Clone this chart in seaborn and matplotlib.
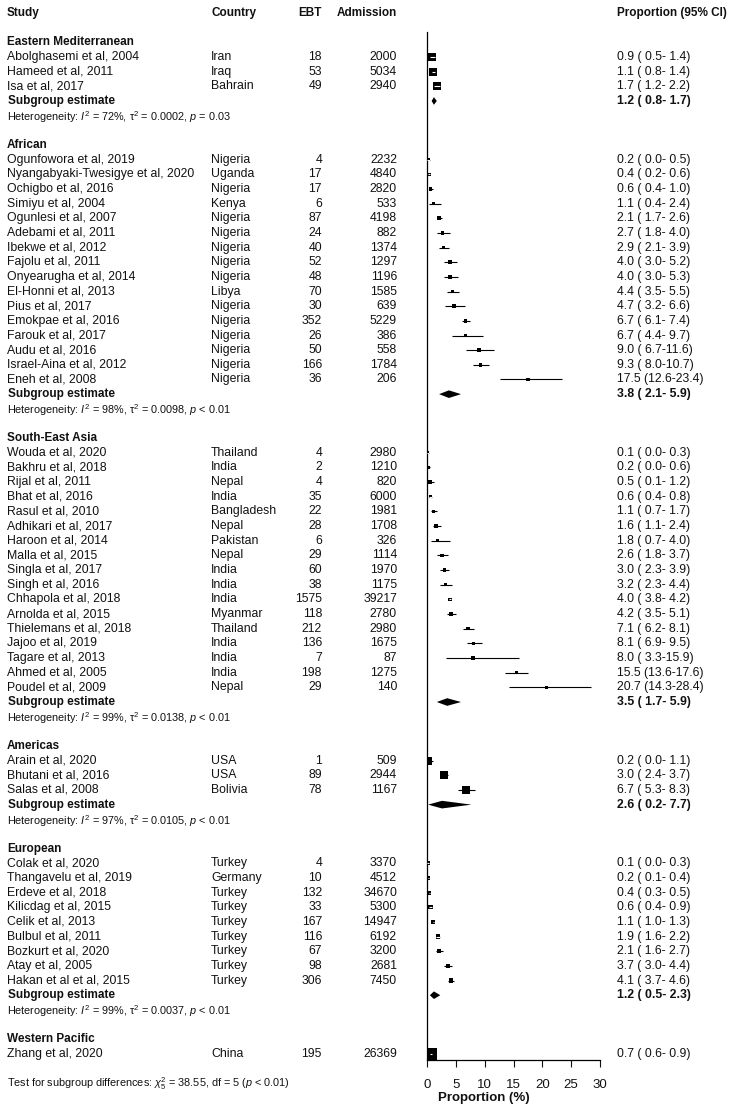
import numpy as np
import pandas as pd
import seaborn as sns
import matplotlib.pyplot as plt

sns.set_style("white")
plt.rcParams['font.family'] = ['Liberation Sans', 'DejaVu Sans']
plt.rcParams['mathtext.fontset'] = 'custom'
plt.rcParams['mathtext.rm'] = 'Liberation Sans'
plt.rcParams['mathtext.it'] = 'Liberation Sans:italic'
plt.rcParams['mathtext.bf'] = 'Liberation Sans:bold'

regions = ['Eastern Mediterranean', 'African', 'South-East Asia',
           'Americas', 'European', 'Western Pacific']
n_studies = [3, 16, 17, 3, 9, 1]

study = ['Abolghasemi et al, 2004', 'Hameed et al, 2011', 'Isa et al, 2017',
         'Ogunfowora et al, 2019', 'Nyangabyaki-Twesigye et al, 2020',
         'Ochigbo et al, 2016', 'Simiyu et al, 2004', 'Ogunlesi et al, 2007',
         'Adebami et al, 2011', 'Ibekwe et al, 2012', 'Fajolu et al, 2011',
         'Onyearugha et al, 2014', 'El-Honni et al, 2013', 'Pius et al, 2017',
         'Emokpae et al, 2016', 'Farouk et al, 2017', 'Audu et al, 2016',
         'Israel-Aina et al, 2012', 'Eneh et al, 2008',
         'Wouda et al, 2020', 'Bakhru et al, 2018', 'Rijal et al, 2011',
         'Bhat et al, 2016', 'Rasul et al, 2010', 'Adhikari et al, 2017',
         'Haroon et al, 2014', 'Malla et al, 2015', 'Singla et al, 2017',
         'Singh et al, 2016', 'Chhapola et al, 2018', 'Arnolda et al, 2015',
         'Thielemans et al, 2018', 'Jajoo et al, 2019', 'Tagare et al, 2013',
         'Ahmed et al, 2005', 'Poudel et al, 2009',
         'Arain et al, 2020', 'Bhutani et al, 2016', 'Salas et al, 2008',
         'Colak et al, 2020', 'Thangavelu et al, 2019', 'Erdeve et al, 2018',
         'Kilicdag et al, 2015', 'Celik et al, 2013', 'Bulbul et al, 2011',
         'Bozkurt et al, 2020', 'Atay et al, 2005', 'Hakan et al et al, 2015',
         'Zhang et al, 2020']
country = ['Iran', 'Iraq', 'Bahrain',
           'Nigeria', 'Uganda', 'Nigeria', 'Kenya', 'Nigeria', 'Nigeria',
           'Nigeria', 'Nigeria', 'Nigeria', 'Libya', 'Nigeria', 'Nigeria',
           'Nigeria', 'Nigeria', 'Nigeria', 'Nigeria',
           'Thailand', 'India', 'Nepal', 'India', 'Bangladesh', 'Nepal',
           'Pakistan', 'Nepal', 'India', 'India', 'India', 'Myanmar',
           'Thailand', 'India', 'India', 'India', 'Nepal',
           'USA', 'USA', 'Bolivia',
           'Turkey', 'Germany', 'Turkey', 'Turkey', 'Turkey', 'Turkey',
           'Turkey', 'Turkey', 'Turkey',
           'China']
ebt = [18, 53, 49,
       4, 17, 17, 6, 87, 24, 40, 52, 48, 70, 30, 352, 26, 50, 166, 36,
       4, 2, 4, 35, 22, 28, 6, 29, 60, 38, 1575, 118, 212, 136, 7, 198, 29,
       1, 89, 78,
       4, 10, 132, 33, 167, 116, 67, 98, 306,
       195]
admission = [2000, 5034, 2940,
             2232, 4840, 2820, 533, 4198, 882, 1374, 1297, 1196, 1585, 639,
             5229, 386, 558, 1784, 206,
             2980, 1210, 820, 6000, 1981, 1708, 326, 1114, 1970, 1175, 39217,
             2780, 2980, 1675, 87, 1275, 140,
             509, 2944, 1167,
             3370, 4512, 34670, 5300, 14947, 6192, 3200, 2681, 7450,
             26369]
prop = [0.9, 1.1, 1.7,
        0.2, 0.4, 0.6, 1.1, 2.1, 2.7, 2.9, 4.0, 4.0, 4.4, 4.7, 6.7, 6.7,
        9.0, 9.3, 17.5,
        0.1, 0.2, 0.5, 0.6, 1.1, 1.6, 1.8, 2.6, 3.0, 3.2, 4.0, 4.2, 7.1,
        8.1, 8.0, 15.5, 20.7,
        0.2, 3.0, 6.7,
        0.1, 0.2, 0.4, 0.6, 1.1, 1.9, 2.1, 3.7, 4.1,
        0.7]
lower = [0.5, 0.8, 1.2,
         0.0, 0.2, 0.4, 0.4, 1.7, 1.8, 2.1, 3.0, 3.0, 3.5, 3.2, 6.1, 4.4,
         6.7, 8.0, 12.6,
         0.0, 0.0, 0.1, 0.4, 0.7, 1.1, 0.7, 1.8, 2.3, 2.3, 3.8, 3.5, 6.2,
         6.9, 3.3, 13.6, 14.3,
         0.0, 2.4, 5.3,
         0.0, 0.1, 0.3, 0.4, 1.0, 1.6, 1.6, 3.0, 3.7,
         0.6]
upper = [1.4, 1.4, 2.2,
         0.5, 0.6, 1.0, 2.4, 2.6, 4.0, 3.9, 5.2, 5.3, 5.5, 6.6, 7.4, 9.7,
         11.6, 10.7, 23.4,
         0.3, 0.6, 1.2, 0.8, 1.7, 2.4, 4.0, 3.7, 3.9, 4.4, 4.2, 5.1, 8.1,
         9.5, 15.9, 17.6, 28.4,
         1.1, 3.7, 8.3,
         0.3, 0.4, 0.5, 0.9, 1.3, 2.2, 2.7, 4.4, 4.6,
         0.9]
# relative box weight
weight = [46, 48, 46,
          9, 8.5, 9, 8.5, 9.5, 9, 9, 9, 9, 9, 9, 9.5, 8.5, 9, 9, 8.5,
          8, 8.5, 8.5, 8.5, 9, 9, 8, 8.5, 9, 9, 9, 9, 9, 9, 8, 9, 8,
          50, 48, 47,
          13, 12, 13, 13, 13, 13, 13, 13, 13,
          100]

sub_est = [1.2, 3.8, 3.5, 2.6, 1.2]
sub_lo = [0.8, 2.1, 1.7, 0.2, 0.5]
sub_hi = [1.7, 5.9, 5.9, 7.7, 2.3]
het_i2 = ['72%', '98%', '99%', '97%', '99%']
het_tau2 = ['0.0002', '0.0098', '0.0138', '0.0105', '0.0037']
het_p = ['= 0.03', '< 0.01', '< 0.01', '< 0.01', '< 0.01']

# ---- layout in rows ----
df = pd.DataFrame({'study': study, 'country': country, 'ebt': ebt,
                   'admission': admission, 'prop': prop, 'lo': lower,
                   'hi': upper, 'weight': weight})
df['region'] = np.repeat(regions, n_studies)

header_rows, sub_rows, het_rows, study_rows = [], [], [], []
r = 2
for i, reg in enumerate(regions):
    header_rows.append(r)
    r += 1
    for _ in range(n_studies[i]):
        study_rows.append(r)
        r += 1
    if i < len(sub_est):
        sub_rows.append(r)
        het_rows.append(r + 1)
        r += 3
df['row'] = study_rows
test_row = r + 1

W, H = 730, 1110
y0, pitch = 13, 14.66
fig = plt.figure(figsize=(W / 100, H / 100), dpi=100)

tax = fig.add_axes([0, 0, 1, 1])
tax.set_xlim(0, W)
tax.set_ylim((H - y0) / pitch, -y0 / pitch)
tax.axis('off')

fax = fig.add_axes([427 / W, 1 - 1060 / H, 173 / W, (1060 - 32) / H])
fax.patch.set_alpha(0)
fax.set_xlim(0, 30)
fax.set_ylim((1060 - y0) / pitch, (32 - y0) / pitch)

ink = '#111111'
txt = dict(fontsize=8.8, va='center', color=ink)
hdr = dict(fontsize=8.5, va='center', color=ink, fontweight='bold')
X_STUDY, X_COUNTRY, X_EBT, X_ADM, X_CI = 7, 211, 322, 397, 617

tax.text(X_STUDY, 0, 'Study', **hdr)
tax.text(X_COUNTRY, 0, 'Country', **hdr)
tax.text(X_EBT, 0, 'EBT', ha='right', **hdr)
tax.text(X_ADM, 0, 'Admission', ha='right', **hdr)
tax.text(X_CI, 0, 'Proportion (95% CI)', **hdr)

for reg, hr in zip(regions, header_rows):
    tax.text(X_STUDY, hr, reg, **hdr)

for _, s in df.iterrows():
    tax.text(X_STUDY, s.row, s.study, **txt)
    tax.text(X_COUNTRY, s.row, s.country, **txt)
    tax.text(X_EBT, s.row, str(s.ebt), ha='right', **txt)
    tax.text(X_ADM, s.row, str(s.admission), ha='right', **txt)
    tax.text(X_CI, s.row, f'{s.prop:.1f} ({s.lo:4.1f}-{s.hi:4.1f})', **txt)

for i, sr in enumerate(sub_rows):
    tax.text(X_STUDY + 1, sr, 'Subgroup estimate', **hdr)
    tax.text(X_CI, sr, f'{sub_est[i]:.1f} ({sub_lo[i]:4.1f}-{sub_hi[i]:4.1f})',
             fontsize=8.8, va='center', color=ink, fontweight='bold')
    tax.text(X_STUDY, het_rows[i] + 0.1,
             f'Heterogeneity: $I^2$ = {het_i2[i]}, τ$^2$ = {het_tau2[i]}, $p$ {het_p[i]}',
             fontsize=7.8, va='center', color=ink)

tax.text(X_STUDY, test_row,
         r'Test for subgroup differences: $\chi^2_5$ = 38.55, df = 5 ($p$ < 0.01)',
         fontsize=7.8, va='center', color=ink)
tax.text(484, (1098 - y0) / pitch, 'Proportion (%)', fontweight='bold',
         fontsize=9.5, ha='center', va='center', color=ink)

# ---- forest marks ----
AREA_MAX = 70
fax.hlines(df['row'], df['lo'], df['hi'], color='black', lw=0.8, zorder=1)
sns.scatterplot(data=df, x='prop', y='row', size='weight',
                sizes=(0, AREA_MAX), size_norm=(0, 100), marker='s',
                color='black', linewidth=0, legend=False, zorder=2, ax=fax)
# CI drawn in white when it lies completely inside its box
px_per_unit = 173 / 30
half = np.sqrt(AREA_MAX * df['weight'] / 100) * 100 / 72 / 2 / px_per_unit
inside = (df['lo'] >= df['prop'] - half) & (df['hi'] <= df['prop'] + half)
fin = df[inside]
fax.hlines(fin['row'], fin['lo'], fin['hi'], color='white', lw=0.8, zorder=3)

for i, sr in enumerate(sub_rows):
    fax.fill([sub_lo[i], sub_est[i], sub_hi[i], sub_est[i]],
             [sr, sr - 0.26, sr, sr + 0.26], color='black', lw=0, zorder=2)

fax.set_xticks(range(0, 31, 5))
fax.set_yticks([])
fax.set_xlabel('')
fax.set_ylabel('')
fax.tick_params(axis='x', direction='out', length=5, width=0.8,
                labelsize=9.5, pad=9, colors=ink, bottom=True)
for side in ['top', 'right']:
    fax.spines[side].set_visible(False)
for side in ['left', 'bottom']:
    fax.spines[side].set_color('black')
    fax.spines[side].set_linewidth(0.9)

fig.savefig('out.png', dpi=100)
